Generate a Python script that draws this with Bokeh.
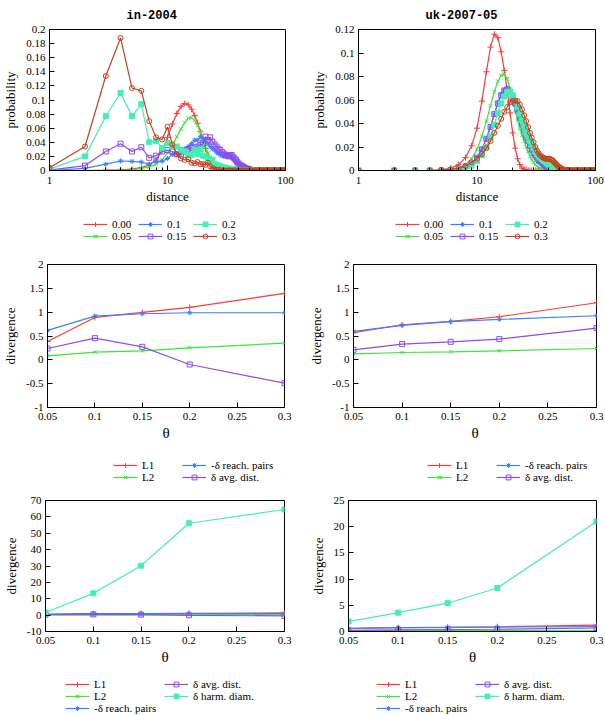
from bokeh.plotting import figure
from bokeh.layouts import column, row
from bokeh.models import (Range1d, FixedTicker, CustomJSTickFormatter, Legend,
                          LegendItem)
from bokeh.embed import file_html
from bokeh.resources import INLINE

# ---------------- data ----------------
DISTANCE = list(range(1, 101))
THRESHOLDS = ["0.00", "0.05", "0.1", "0.15", "0.2", "0.3"]

# in-2004 distance distributions (values for d = 1, 2, ...; the rest are 0)
IN_000 = [0, 0, 0.0005, 0.001, 0.002, 0.004, 0.008, 0.015, 0.028, 0.047, 0.066, 0.081,
          0.091, 0.095, 0.093, 0.087, 0.078, 0.067, 0.055, 0.043, 0.031, 0.020, 0.012,
          0.006, 0.003, 0.001]
IN_005 = [0, 0, 0, 0.0005, 0.001, 0.003, 0.005, 0.009, 0.015, 0.025, 0.036, 0.048, 0.059,
          0.068, 0.074, 0.075, 0.071, 0.064, 0.054, 0.044, 0.034, 0.025, 0.018, 0.012,
          0.008, 0.005, 0.003, 0.002, 0.001]
IN_010 = [0, 0.003, 0.009, 0.0135, 0.013, 0.012, 0.009, 0.013, 0.013, 0.017, 0.023, 0.024,
          0.025, 0.031, 0.034, 0.038, 0.043, 0.043, 0.048, 0.045, 0.041, 0.038, 0.034,
          0.031, 0.029, 0.026, 0.024, 0.022, 0.021, 0.020, 0.021, 0.022, 0.022, 0.021,
          0.019, 0.016, 0.014, 0.012, 0.010, 0.008, 0.006, 0.005, 0.004, 0.003, 0.003,
          0.002, 0.002, 0.001, 0.001, 0.0005]
IN_015 = [0.0005, 0.007, 0.027, 0.038, 0.027, 0.033, 0.018, 0.021, 0.027, 0.029, 0.027,
          0.023, 0.023, 0.027, 0.030, 0.032, 0.033, 0.034, 0.036, 0.038, 0.048, 0.043,
          0.047, 0.041, 0.037, 0.034, 0.031, 0.029, 0.026, 0.024, 0.022, 0.021, 0.020,
          0.021, 0.022, 0.019, 0.017, 0.015, 0.012, 0.010, 0.008, 0.007, 0.006, 0.005,
          0.004, 0.003, 0.003, 0.002, 0.002, 0.001, 0.001, 0.0005]
IN_020 = [0.002, 0.020, 0.077, 0.110, 0.077, 0.094, 0.040, 0.042, 0.032, 0.039, 0.034,
          0.034, 0.029, 0.027, 0.022, 0.022, 0.029, 0.023, 0.030, 0.021, 0.020, 0.017,
          0.013, 0.015, 0.009, 0.008, 0.007, 0.006, 0.005, 0.004, 0.004, 0.003, 0.003,
          0.002, 0.002, 0.002, 0.001, 0.001, 0.001, 0.0005, 0.0005]
IN_030 = [0.004, 0.034, 0.134, 0.188, 0.117, 0.113, 0.070, 0.047, 0.044, 0.062, 0.037,
          0.023, 0.017, 0.015, 0.016, 0.011, 0.010, 0.012, 0.009, 0.009, 0.008, 0.011,
          0.006, 0.003, 0.002, 0.001, 0.001, 0.0005]

# uk-2007-05 distance distributions
UK_000 = [0, 0, 0, 0, 0.0005, 0.002, 0.005, 0.011, 0.021, 0.036, 0.059, 0.084, 0.105,
          0.116, 0.113, 0.101, 0.085, 0.068, 0.049, 0.032, 0.019, 0.010, 0.005, 0.002,
          0.001, 0.0005]
UK_005 = [0, 0, 0, 0, 0, 0.0005, 0.002, 0.005, 0.010, 0.018, 0.029, 0.042, 0.055, 0.067,
          0.076, 0.081, 0.082, 0.078, 0.070, 0.060, 0.051, 0.043, 0.036, 0.030, 0.025,
          0.020, 0.016, 0.012, 0.009, 0.007, 0.005, 0.004, 0.003, 0.002, 0.0015, 0.001,
          0.0007, 0.0005]
UK_010 = [0, 0, 0, 0, 0, 0.0005, 0.001, 0.003, 0.006, 0.011, 0.018, 0.027, 0.037, 0.048,
          0.058, 0.065, 0.069, 0.070, 0.067, 0.062, 0.056, 0.050, 0.044, 0.038, 0.033,
          0.028, 0.024, 0.020, 0.017, 0.014, 0.012, 0.010, 0.008, 0.007, 0.006, 0.005,
          0.004, 0.003, 0.003, 0.002, 0.002, 0.001, 0.001, 0.0007, 0.0005]
UK_015 = [0, 0, 0, 0, 0, 0.0005, 0.001, 0.003, 0.006, 0.011, 0.018, 0.027, 0.037, 0.048,
          0.057, 0.064, 0.068, 0.069, 0.067, 0.062, 0.057, 0.051, 0.045, 0.040, 0.034,
          0.029, 0.025, 0.021, 0.018, 0.015, 0.013, 0.011, 0.009, 0.008, 0.007, 0.006,
          0.005, 0.004, 0.003, 0.003, 0.002, 0.002, 0.001, 0.001, 0.0007, 0.0005]
UK_020 = [0, 0, 0, 0, 0, 0.0003, 0.001, 0.002, 0.004, 0.008, 0.013, 0.020, 0.029, 0.039,
          0.049, 0.057, 0.063, 0.067, 0.067, 0.064, 0.059, 0.054, 0.048, 0.043, 0.038,
          0.033, 0.029, 0.025, 0.022, 0.019, 0.016, 0.014, 0.012, 0.011, 0.010, 0.009,
          0.008, 0.007, 0.006, 0.005, 0.004, 0.004, 0.003, 0.003, 0.002, 0.002, 0.001,
          0.001, 0.001, 0.0007, 0.0005, 0.0003]
UK_030 = [0, 0, 0, 0, 0.0005, 0.001, 0.002, 0.004, 0.007, 0.010, 0.014, 0.019, 0.025,
          0.032, 0.038, 0.044, 0.050, 0.054, 0.058, 0.059, 0.0595, 0.059, 0.056, 0.052,
          0.047, 0.042, 0.037, 0.032, 0.028, 0.024, 0.020, 0.017, 0.015, 0.013, 0.012,
          0.011, 0.0105, 0.010, 0.010, 0.010, 0.010, 0.0095, 0.009, 0.008, 0.007, 0.006,
          0.005, 0.004, 0.003, 0.0025, 0.002, 0.0015, 0.001, 0.0008, 0.0005, 0.0004,
          0.0003, 0.0002, 0.0001]

# divergence vs theta
THETA = [0.05, 0.1, 0.15, 0.2, 0.3]
MEASURES = ["L1", "L2", "-\u03b4 reach. pairs", "\u03b4 avg. dist.", "\u03b4 harm. diam."]
IN_L1 = [0.385, 0.89, 0.995, 1.10, 1.395]
IN_L2 = [0.084, 0.161, 0.19, 0.252, 0.35]
IN_REACH = [0.617, 0.918, 0.967, 0.988, 0.988]
IN_AVG = [0.238, 0.455, 0.273, -0.098, -0.49]
IN_HARM = [1.6, 13.3, 30.2, 56.1, 64.5]
UK_L1 = [0.568, 0.736, 0.806, 0.904, 1.198]
UK_L2 = [0.126, 0.154, 0.168, 0.189, 0.238]
UK_REACH = [0.596, 0.722, 0.80, 0.848, 0.925]
UK_AVG = [0.21, 0.329, 0.378, 0.434, 0.666]
UK_HARM = [1.9, 3.6, 5.4, 8.3, 21.0]

# ticks
TOP_X_TICKS = [1, 10, 100]
TOP_X_MINOR = [2, 3, 4, 5, 6, 7, 8, 9, 20, 30, 40, 50, 60, 70, 80, 90]
IN_TOP_Y_TICKS = [0, 0.02, 0.04, 0.06, 0.08, 0.1, 0.12, 0.14, 0.16, 0.18, 0.2]
UK_TOP_Y_TICKS = [0, 0.02, 0.04, 0.06, 0.08, 0.1, 0.12]
THETA_TICKS = [0.05, 0.1, 0.15, 0.2, 0.25, 0.3]
MID_Y_TICKS = [-1, -0.5, 0, 0.5, 1, 1.5, 2]
IN_BOT_Y_TICKS = [-10, 0, 10, 20, 30, 40, 50, 60, 70]
UK_BOT_Y_TICKS = [0, 5, 10, 15, 20, 25]

# ---------------- style ----------------
SERIF = "Liberation Serif"
MONO = "Liberation Mono"
COLORS = ["#ff3a3a", "#3ae63a", "#3a80ff", "#8c4cf0", "#40f0b0", "#c8401e"]
MARKERS = ["cross", "x", "asterisk", "square", "square", "circle"]
FILLED = [True, True, True, False, True, False]
SIZES = [6, 5, 5, 5, 5, 5]
NAN = float("nan")

FMT_CODE = "return String(Math.round(tick * 1e6) / 1e6);"


def pad(vals, n=100):
    return list(vals) + [0.0] * (n - len(vals))


def style(p, xticks, xminor, yticks, xlabel, ylabel, xlabel_size, xstand):
    p.outline_line_color = "black"
    p.outline_line_width = 1
    p.xgrid.visible = False
    p.ygrid.visible = False
    p.background_fill_color = "white"
    p.border_fill_color = "white"
    xa = p.xaxis[0]
    ya = p.yaxis[0]
    xa.ticker = FixedTicker(ticks=xticks, minor_ticks=xminor)
    ya.ticker = FixedTicker(ticks=yticks, minor_ticks=[])
    xa.axis_label = xlabel
    ya.axis_label = ylabel
    for ax in (xa, ya):
        ax.formatter = CustomJSTickFormatter(code=FMT_CODE)
        ax.major_tick_in = 5
        ax.major_tick_out = 0
        ax.minor_tick_in = 3
        ax.minor_tick_out = 0
        ax.major_label_text_font = SERIF
        ax.major_label_text_font_size = "11px"
        ax.major_label_text_color = "black"
        ax.axis_label_text_font = SERIF
        ax.axis_label_text_font_style = "normal"
        ax.axis_label_text_color = "black"
        ax.axis_line_color = "black"
        ax.major_tick_line_color = "black"
        ax.minor_tick_line_color = "black"
    xa.major_label_standoff = xstand
    xa.axis_label_standoff = 2
    ya.major_label_standoff = 4
    ya.axis_label_standoff = 5
    xa.axis_label_text_font_size = xlabel_size
    ya.axis_label_text_font_size = "13px"


def add_series(p, x, y, i):
    col = COLORS[i]
    r1 = p.line(x, y, line_color=col, line_width=1.2)
    r2 = p.scatter(x, y, marker=MARKERS[i], size=SIZES[i], line_color=col,
                   fill_color=col if FILLED[i] else None, line_width=1)
    return [r1, r2]


def legend_fig(width, height, labels, n, order, ncols, loc, label_width):
    p = figure(width=width, height=height, x_range=Range1d(0, 1), y_range=Range1d(0, 1),
               output_backend="svg", toolbar_location=None,
               x_axis_location=None, y_axis_location=None,
               min_border_left=0, min_border_right=0, min_border_top=0,
               min_border_bottom=0)
    p.outline_line_color = None
    p.xgrid.visible = False
    p.ygrid.visible = False
    p.background_fill_color = "white"
    p.border_fill_color = "white"
    # legend-only renderers: a single undefined (NaN) point, nothing is drawn
    rends = [add_series(p, [NAN], [NAN], i) for i in range(n)]
    items = [LegendItem(label=labels[k], renderers=rends[k]) for k in order]
    leg = Legend(items=items, location=loc, orientation="horizontal", ncols=ncols,
                 label_text_font=SERIF, label_text_font_size="11px",
                 label_text_color="black",
                 glyph_width=24, glyph_height=12, label_height=12,
                 label_width=label_width, label_standoff=5, spacing=0,
                 padding=0, margin=0, border_line_color=None,
                 background_fill_alpha=0)
    p.add_layout(leg, "center")
    return p


def top_fig(title, series, ymax, yticks, width, mbl, mbr, title_off):
    p = figure(width=width, height=206, x_axis_type="log",
               x_range=Range1d(1, 100), y_range=Range1d(0, ymax),
               output_backend="svg", toolbar_location=None,
               min_border_left=mbl, min_border_right=mbr,
               min_border_top=28, min_border_bottom=35)
    p.title.text = title
    p.title.text_font = MONO
    p.title.text_font_style = "bold"
    p.title.text_font_size = "12px"
    p.title.text_color = "black"
    p.title.align = "left"
    p.title.offset = title_off
    p.title.standoff = 13
    style(p, TOP_X_TICKS, TOP_X_MINOR, yticks, "distance", "probability", "13px", 6)
    for i, s in enumerate(series):
        add_series(p, DISTANCE, pad(s), i)
    return p


def theta_fig(series, yrange, yticks, width, height, mbl, mbr, mbt, mbb):
    p = figure(width=width, height=height, x_range=Range1d(0.05, 0.3),
               y_range=Range1d(*yrange), output_backend="svg", toolbar_location=None,
               min_border_left=mbl, min_border_right=mbr,
               min_border_top=mbt, min_border_bottom=mbb)
    style(p, THETA_TICKS, [], yticks, "\u03b8", "divergence", "15px", 5)
    for i, s in enumerate(series):
        add_series(p, THETA, s, i)
    return p


W_L, W_R = 300, 304
TOP_ORDER = [0, 2, 4, 1, 3, 5]
MID_ORDER = [0, 2, 1, 3]
BOT_ORDER = [0, 3, 1, 4, 2]

tl = top_fig("in-2004", [IN_000, IN_005, IN_010, IN_015, IN_020, IN_030],
             0.2, IN_TOP_Y_TICKS, W_L, 45, 15, 77)
tr = top_fig("uk-2007-05", [UK_000, UK_005, UK_010, UK_015, UK_020, UK_030],
             0.12, UK_TOP_Y_TICKS, W_R, 58, 9, 67)
tl_leg = legend_fig(W_L, 42, THRESHOLDS, 6, TOP_ORDER, 3, (83, 6), 26)
tr_leg = legend_fig(W_R, 42, THRESHOLDS, 6, TOP_ORDER, 3, (95, 6), 26)

ml = theta_fig([IN_L1, IN_L2, IN_REACH, IN_AVG], (-1, 2), MID_Y_TICKS,
               W_L, 198, 41, 16, 16, 39)
mr = theta_fig([UK_L1, UK_L2, UK_REACH, UK_AVG], (-1, 2), MID_Y_TICKS,
               W_R, 198, 53, 8, 16, 39)
ml_leg = legend_fig(W_L, 40, MEASURES, 4, MID_ORDER, 2, (113, 3), 40)
mr_leg = legend_fig(W_R, 40, MEASURES, 4, MID_ORDER, 2, (127, 3), 40)

bl = theta_fig([IN_L1, IN_L2, IN_REACH, IN_AVG, IN_HARM], (-10, 70), IN_BOT_Y_TICKS,
               W_L, 184, 42, 16, 14, 39)
br = theta_fig([UK_L1, UK_L2, UK_REACH, UK_AVG, UK_HARM], (0, 25), UK_BOT_Y_TICKS,
               W_R, 184, 48, 8, 14, 39)
bl_leg = legend_fig(W_L, 44, MEASURES, 5, BOT_ORDER, 2, (65, 0), 70)
br_leg = legend_fig(W_R, 44, MEASURES, 5, BOT_ORDER, 2, (76, 0), 70)

layout = column(row(tl, tr), row(tl_leg, tr_leg), row(ml, mr), row(ml_leg, mr_leg),
                row(bl, br), row(bl_leg, br_leg))
open("out.html", "w").write(file_html(layout, INLINE))
